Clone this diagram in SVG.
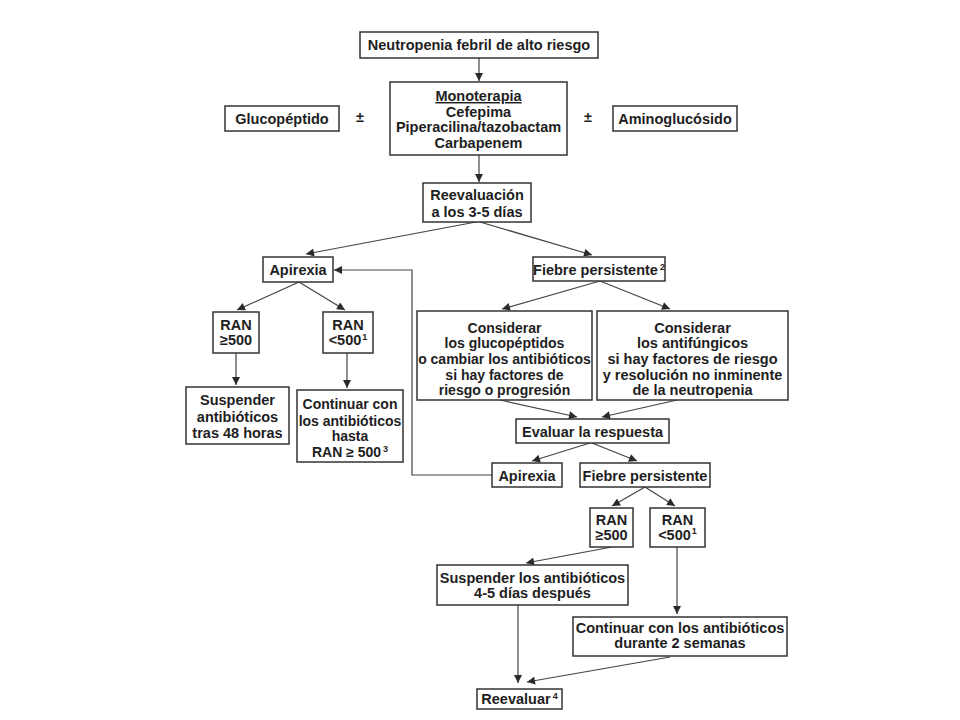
<svg xmlns="http://www.w3.org/2000/svg" width="960" height="720" viewBox="0 0 960 720">
<defs>
<marker id="ah" viewBox="0 0 10 10" refX="10" refY="5" markerWidth="9" markerHeight="8" markerUnits="userSpaceOnUse" orient="auto">
<path d="M0,0 L10,5 L0,10 z" fill="#2a2a2a"/>
</marker>
<style>
.b{fill:#fff;stroke:#333;stroke-width:1.5}
.t{font-family:"Liberation Sans",Arial,sans-serif;font-weight:bold;font-size:14.5px;fill:#1e1e1e;text-anchor:middle}
.m{font-size:14px}
.c{fill:none;stroke:#444;stroke-width:1.2}
.a{marker-end:url(#ah)}
.s{font-size:9px}
</style>
</defs>
<rect width="960" height="720" fill="#fff"/>
<g id="connectors">
<line class="c a" x1="479" y1="58" x2="479" y2="81"/>
<line class="c a" x1="479" y1="155" x2="479" y2="182"/>
<line class="c a" x1="476" y1="222" x2="306" y2="254"/>
<line class="c a" x1="480" y1="222" x2="592" y2="255"/>
<line class="c a" x1="299" y1="282" x2="237" y2="310"/>
<line class="c a" x1="299" y1="282" x2="345" y2="310"/>
<line class="c a" x1="236" y1="353" x2="236" y2="385"/>
<line class="c a" x1="347" y1="353" x2="347" y2="388"/>
<line class="c a" x1="600" y1="281" x2="502" y2="309"/>
<line class="c a" x1="600" y1="281" x2="670" y2="309"/>
<line class="c a" x1="500" y1="400" x2="577" y2="417"/>
<line class="c a" x1="677" y1="400" x2="602" y2="417"/>
<line class="c a" x1="590" y1="443" x2="532" y2="461"/>
<line class="c a" x1="592" y1="443" x2="637" y2="461"/>
<polyline class="c a" points="492,475 412,475 412,270 334,270"/>
<line class="c a" x1="645" y1="487" x2="612" y2="506"/>
<line class="c a" x1="645" y1="487" x2="675" y2="506"/>
<line class="c a" x1="612" y1="547" x2="526" y2="563"/>
<line class="c a" x1="677" y1="547" x2="677" y2="614"/>
<line class="c a" x1="518" y1="605" x2="518" y2="683"/>
<line class="c a" x1="670" y1="657" x2="527" y2="682"/>
</g>
<g id="n1"><rect class="b" x="360" y="32" width="238" height="26"/><text class="t" x="479" y="50">Neutropenia febril de alto riesgo</text></g>
<g id="n2"><rect class="b" x="390" y="82" width="177" height="73"/>
<text class="t" x="478.5" y="101" text-decoration="underline">Monoterapia</text>
<text class="t" x="478.5" y="116.5">Cefepima</text>
<text class="t" x="478.5" y="132">Piperacilina/tazobactam</text>
<text class="t" x="478.5" y="148">Carbapenem</text></g>
<g id="n3"><rect class="b" x="225" y="106" width="114" height="25"/><text class="t" x="282" y="123.5">Glucopéptido</text></g>
<g id="pm1"><text class="t" x="360" y="122">±</text></g>
<g id="pm2"><text class="t" x="588" y="122">±</text></g>
<g id="n4"><rect class="b" x="613" y="106" width="124" height="25"/><text class="t" x="675" y="123.5">Aminoglucósido</text></g>
<g id="n5"><rect class="b" x="423" y="183" width="108" height="39"/>
<text class="t" x="477" y="200">Reevaluación</text>
<text class="t" x="477" y="216.5">a los 3-5 días</text></g>
<g id="n6"><rect class="b" x="263" y="257" width="70" height="25"/><text class="t" x="298" y="274.5">Apirexia</text></g>
<g id="n7"><rect class="b" x="533" y="257" width="132" height="24"/><text class="t" x="599" y="274.5">Fiebre persistente<tspan class="s" dx="2" dy="-5">2</tspan></text></g>
<g id="n8"><rect class="b" x="213" y="312" width="46" height="41"/>
<text class="t" x="236" y="330">RAN</text><text class="t" x="236" y="345">≥500</text></g>
<g id="n9"><rect class="b" x="323" y="312" width="50" height="41"/>
<text class="t" x="348" y="330">RAN</text><text class="t" x="348" y="345">&lt;500<tspan class="s" dx="1" dy="-5">1</tspan></text></g>
<g id="n10"><rect class="b" x="186" y="387" width="103" height="57"/>
<text class="t" x="237.5" y="405">Suspender</text>
<text class="t" x="237.5" y="421.5">antibióticos</text>
<text class="t" x="237.5" y="438">tras 48 horas</text></g>
<g id="n11"><rect class="b" x="297" y="390" width="106" height="72"/>
<text class="t m" x="350" y="409">Continuar con</text>
<text class="t m" x="350" y="425.5">los antibióticos</text>
<text class="t m" x="350" y="441">hasta</text>
<text class="t m" x="350" y="457">RAN ≥ 500<tspan class="s" dx="2" dy="-5">3</tspan></text></g>
<g id="n12"><rect class="b" x="417" y="311" width="175" height="89"/>
<text class="t m" x="504.5" y="332.5">Considerar</text>
<text class="t m" x="504.5" y="348">los glucopéptidos</text>
<text class="t m" x="504.5" y="363.5">o cambiar los antibióticos</text>
<text class="t m" x="504.5" y="379.5">si hay factores de</text>
<text class="t m" x="504.5" y="395">riesgo o progresión</text></g>
<g id="n13"><rect class="b" x="597" y="311" width="191" height="89"/>
<text class="t" x="692.5" y="332.5">Considerar</text>
<text class="t" x="692.5" y="348">los antifúngicos</text>
<text class="t" x="692.5" y="363.5">si hay factores de riesgo</text>
<text class="t" x="692.5" y="379.5">y resolución no inminente</text>
<text class="t" x="692.5" y="395">de la neutropenia</text></g>
<g id="n14"><rect class="b" x="516" y="419" width="153" height="24"/><text class="t" x="592.5" y="436.5">Evaluar la respuesta</text></g>
<g id="n15"><rect class="b" x="492" y="463" width="70" height="24"/><text class="t" x="527" y="480.5">Apirexia</text></g>
<g id="n16"><rect class="b" x="580" y="463" width="130" height="24"/><text class="t" x="645" y="480.5">Fiebre persistente</text></g>
<g id="n17"><rect class="b" x="590" y="508" width="43" height="39"/>
<text class="t" x="611.5" y="525">RAN</text><text class="t" x="611.5" y="540">≥500</text></g>
<g id="n18"><rect class="b" x="650" y="508" width="55" height="39"/>
<text class="t" x="677.5" y="525">RAN</text><text class="t" x="677.5" y="540">&lt;500<tspan class="s" dx="1" dy="-6">1</tspan></text></g>
<g id="n19"><rect class="b" x="437" y="565" width="191" height="40"/>
<text class="t" x="532.5" y="583">Suspender los antibióticos</text>
<text class="t" x="532.5" y="598">4-5 días después</text></g>
<g id="n20"><rect class="b" x="573" y="617" width="214" height="39"/>
<text class="t" x="680" y="633">Continuar con los antibióticos</text>
<text class="t" x="680" y="648">durante 2 semanas</text></g>
<g id="n21"><rect class="b" x="477" y="689" width="85" height="20"/><text class="t" x="519.5" y="704">Reevaluar<tspan class="s" dx="2" dy="-5">4</tspan></text></g>
</svg>
